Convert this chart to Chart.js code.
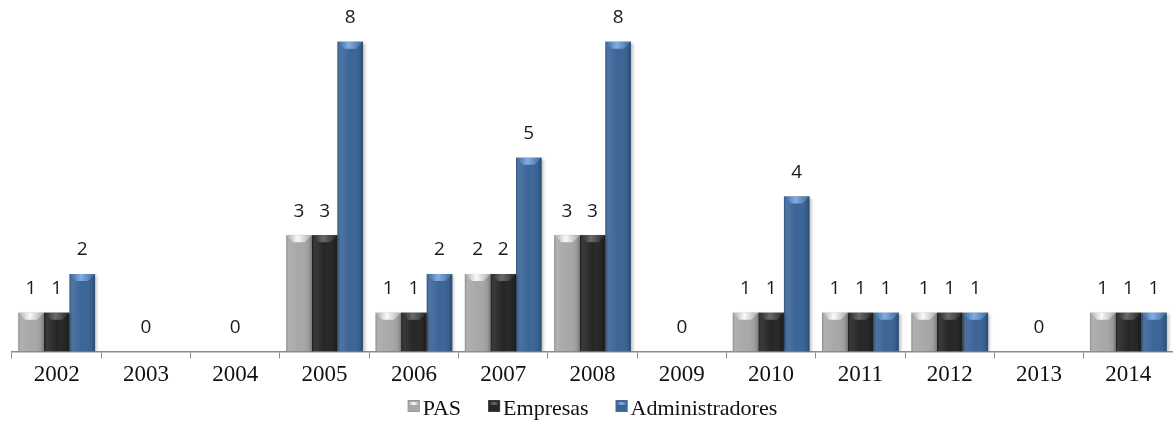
<!DOCTYPE html>
<html>
<head>
<meta charset="utf-8">
<script src="https://cdn.jsdelivr.net/npm/chart.js@4.4.1/dist/chart.umd.min.js"></script>
<style>
  html, body { margin: 0; padding: 0; background: #fff; }
  #wrap { width: 1173px; height: 423px; position: relative; }
</style>
</head>
<body>
<div id="wrap"><canvas id="chart"></canvas></div>
<script>
// 年份与三组数据（空年份只标注中间的 0）
const years = ['2002', '2003', '2004', '2005', '2006', '2007', '2008', '2009', '2010', '2011', '2012', '2013', '2014'];
const pasValues = [1, null, null, 3, 1, 2, 3, null, 1, 1, 1, null, 1];
const empresasValues = [1, 0, 0, 3, 1, 2, 3, 0, 1, 1, 1, 0, 1];
const adminValues = [2, null, null, 8, 2, 5, 8, null, 4, 1, 1, null, 1];
const seriesNames = ['PAS', 'Empresas', 'Administradores'];

// 每个系列的主体色与顶部斜面色
const bodyColors = ['#a8a8a8', '#262626', '#3b6597'];
const bevelColors = ['#fafafa', '#6a6a6a', '#82aee4'];

const serif = '"Liberation Serif", "Times New Roman", serif';

// 柱子立体效果：阴影 + 顶部斜面 + 左右渐变
const bevelPlugin = {
    id: 'bevel',
    beforeDatasetsDraw(chart) {
        const ctx = chart.ctx;
        ctx.save();
        ctx.shadowColor = 'rgba(0,0,0,0.28)';
        ctx.shadowBlur = 3;
        ctx.shadowOffsetX = 2;
        ctx.shadowOffsetY = 1;
    },
    afterDatasetsDraw(chart) {
        const ctx = chart.ctx;
        ctx.restore();
        chart.data.datasets.forEach((ds, di) => {
            const meta = chart.getDatasetMeta(di);
            meta.data.forEach((bar, i) => {
                const v = ds.data[i];
                if (!v) return;
                const p = bar.getProps(['x', 'y', 'base', 'width'], true);
                const left = p.x - p.width / 2;
                const right = p.x + p.width / 2;
                const top = p.y;
                const h = p.base - p.y;
                ctx.save();
                const g = ctx.createLinearGradient(left, 0, right, 0);
                g.addColorStop(0, 'rgba(0,0,0,0.15)');
                g.addColorStop(0.1, 'rgba(255,255,255,0.10)');
                g.addColorStop(0.5, 'rgba(255,255,255,0.0)');
                g.addColorStop(0.88, 'rgba(0,0,0,0.08)');
                g.addColorStop(1, 'rgba(0,0,0,0.28)');
                ctx.fillStyle = g;
                ctx.fillRect(left, top, p.width, h);
                const bev = Math.min(7, h / 2);
                ctx.beginPath();
                ctx.moveTo(left, top);
                ctx.lineTo(right, top);
                ctx.lineTo(right - bev, top + bev);
                ctx.lineTo(left + bev, top + bev);
                ctx.closePath();
                const bg = ctx.createLinearGradient(left, 0, right, 0);
                bg.addColorStop(0, bodyColors[di]);
                bg.addColorStop(0.45, bevelColors[di]);
                bg.addColorStop(1, bodyColors[di]);
                ctx.fillStyle = bg;
                ctx.fill();
                ctx.restore();
            });
        });
    }
};

// 柱顶数值标签
const valueLabels = {
    id: 'valueLabels',
    afterDraw(chart) {
        const ctx = chart.ctx;
        ctx.save();
        ctx.font = '19px "Open Sans", sans-serif';
        ctx.fillStyle = '#1a1a1a';
        ctx.textAlign = 'center';
        ctx.textBaseline = 'middle';
        chart.data.datasets.forEach((ds, di) => {
            const meta = chart.getDatasetMeta(di);
            meta.data.forEach((bar, i) => {
                const v = ds.data[i];
                if (v === null || v === undefined) return;
                ctx.fillText(String(v), bar.x, bar.y - 24);
            });
        });
        ctx.restore();
    }
};

// 底部图例：小方块紧贴文字
const bottomLegend = {
    id: 'bottomLegend',
    afterDraw(chart) {
        const ctx = chart.ctx;
        const box = 12, gap = 3, itemGap = 27;
        ctx.save();
        ctx.font = '22px ' + serif;
        const widths = seriesNames.map(n => ctx.measureText(n).width);
        const total = widths.reduce((a, w) => a + box + gap + w, 0) + itemGap * (seriesNames.length - 1);
        const area = chart.chartArea;
        let x = (area.left + area.right) / 2 - total / 2;
        const textY = 409;
        seriesNames.forEach((n, i) => {
            const by = textY - 3 - box / 2;
            const g = ctx.createLinearGradient(x, 0, x + box, 0);
            g.addColorStop(0, bodyColors[i]);
            g.addColorStop(0.5, bevelColors[i]);
            g.addColorStop(1, bodyColors[i]);
            ctx.fillStyle = bodyColors[i];
            ctx.fillRect(x, by, box, box);
            ctx.fillStyle = g;
            ctx.fillRect(x + 2, by + 2, box - 4, 3);
            ctx.strokeStyle = 'rgba(120,120,120,0.6)';
            ctx.lineWidth = 0.5;
            ctx.strokeRect(x + 0.25, by + 0.25, box - 0.5, box - 0.5);
            x += box + gap;
            ctx.fillStyle = '#111';
            ctx.textAlign = 'left';
            ctx.textBaseline = 'middle';
            ctx.fillText(n, x, textY);
            x += widths[i] + itemGap;
        });
        ctx.restore();
    }
};

new Chart(document.getElementById('chart'), {
    type: 'bar',
    data: {
        labels: years,
        datasets: [pasValues, empresasValues, adminValues].map((vals, i) => ({
            label: seriesNames[i],
            data: vals,
            backgroundColor: bodyColors[i],
            borderWidth: 0,
            categoryPercentage: 0.86,
            barPercentage: 1.0
        }))
    },
    options: {
        responsive: true,
        maintainAspectRatio: false,
        animation: false,
        layout: { padding: { left: 12, right: 0, top: 3, bottom: 31 } },
        plugins: {
            tooltip: { enabled: false },
            legend: { display: false }
        },
        scales: {
            x: {
                grid: {
                    offset: true,
                    drawOnChartArea: false,
                    drawTicks: true,
                    tickLength: 7,
                    color: '#8c8c8c'
                },
                border: { color: '#8c8c8c', width: 1.5 },
                ticks: {
                    font: { family: serif, size: 23 },
                    color: '#111',
                    padding: 3
                }
            },
            y: {
                display: false,
                min: 0,
                max: 9
            }
        }
    },
    plugins: [bevelPlugin, valueLabels, bottomLegend]
});
</script>
</body>
</html>
